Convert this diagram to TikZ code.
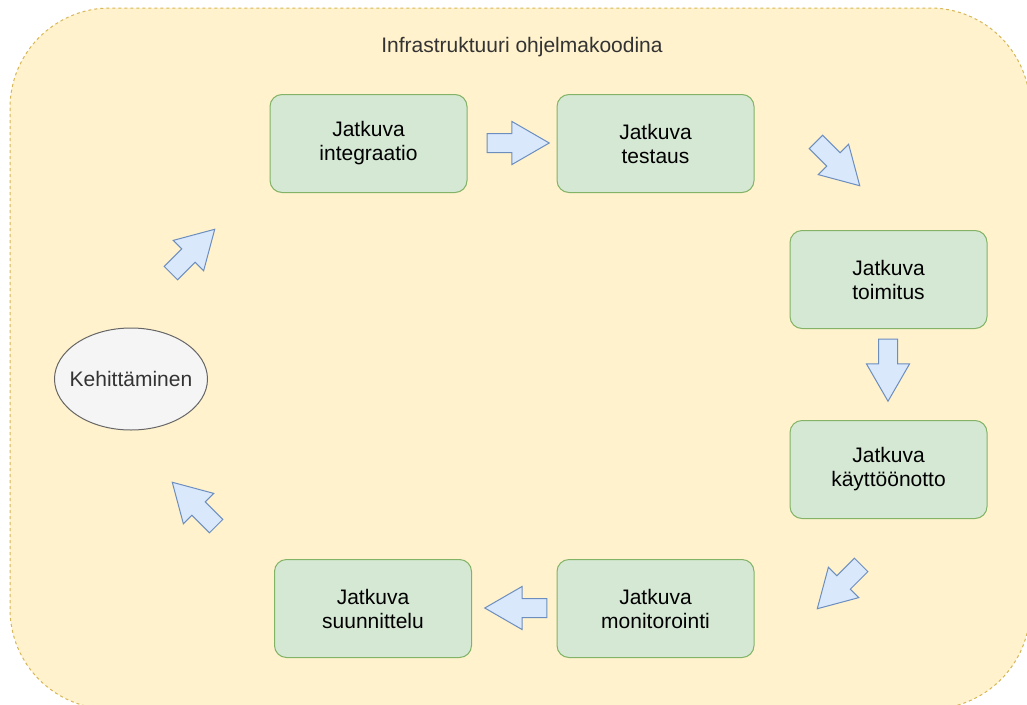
\documentclass[tikz,border=0pt]{standalone}
\usepackage{fontspec}
\setmainfont{Liberation Sans}
\usepackage{xcolor}
\usetikzlibrary{shapes.geometric, shapes.arrows, positioning}

\definecolor{bgfill}{HTML}{FFF2CC}
\definecolor{bgline}{HTML}{D6B656}
\definecolor{boxfill}{HTML}{D5E8D4}
\definecolor{boxline}{HTML}{82B366}
\definecolor{arrfill}{HTML}{DAE8FC}
\definecolor{arrline}{HTML}{6C8EBF}
\definecolor{ellfill}{HTML}{F5F5F5}
\definecolor{ellline}{HTML}{666666}
\definecolor{txtgray}{HTML}{333333}

\begin{document}
\begin{tikzpicture}[x=1pt, y=-1pt,
        font=\fontsize{21}{24}\selectfont,
        phase/.style={draw=boxline, fill=boxfill, line width=1pt, rounded corners=12pt,
            minimum width=197pt, minimum height=98pt, align=center, inner sep=0pt},
        flow/.style={single arrow, draw=arrline, fill=arrfill, line width=1pt,
            inner sep=9pt, inner xsep=0pt, minimum height=62pt,
            single arrow head extend=12pt, single arrow tip angle=60},
        start/.style={ellipse, draw=ellline, fill=ellfill, line width=1pt,
            minimum width=153pt, minimum height=102pt, text=txtgray,
            inner xsep=-9pt, inner ysep=0pt}]

        \useasboundingbox (0,0) rectangle (1027,704);
        \clip (0,0) rectangle (1027,704);

        % Container (runs off the right and bottom edge)
        \draw[bgline, fill=bgfill, line width=1pt, dash pattern=on 3pt off 3pt,
            rounded corners=100pt] (10,8) rectangle (1030,709);
        \node[text=txtgray] (title) at (522,47) {Infrastruktuuri ohjelmakoodina};

        % Phases of the cycle
        \node[phase] (integ) at (368.5,143.5) {Jatkuva\\integraatio};
        \node[phase] (testaus) at (655.5,143.5) {Jatkuva\\testaus};
        \node[phase] (toimitus) at (888.5,279.5) {Jatkuva\\toimitus};
        \node[phase] (kaytto) at (888.5,469.5) {Jatkuva\\käyttöönotto};
        \node[phase] (monitor) at (655.5,608.5) {Jatkuva\\monitorointi};
        \node[phase] (suunn) at (373,608.5) {Jatkuva\\suunnittelu};
        \node[start] (kehit) at (131,379) {Kehittäminen};

        % Block arrows between the phases
        \node[flow] (a1) at (510,143) {};
        \node[flow, rotate=-45] (a2) at (832,158) {};
        \node[flow, rotate=-90] (a3) at (888,362) {};
        \node[flow, rotate=-135] (a4) at (845,581) {};
        \node[flow, rotate=180] (a5) at (524,608) {};
        \node[flow, rotate=135] (a6) at (200,510) {};
        \node[flow, rotate=45] (a7) at (187,257) {};

    \end{tikzpicture}
\end{document}
